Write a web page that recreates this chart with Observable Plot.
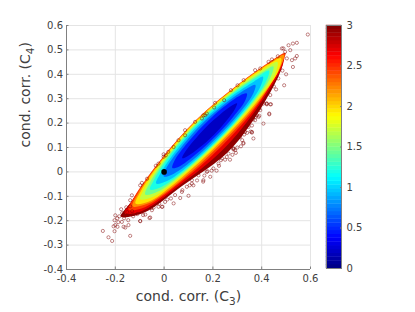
<!DOCTYPE html>
<html><head><meta charset="utf-8">
<script src="https://cdn.jsdelivr.net/npm/d3@7"></script>
<script src="https://cdn.jsdelivr.net/npm/@observablehq/plot@0.6"></script>
<style>html,body{margin:0;padding:0;background:#fff}#c{display:flex;width:415px;height:312px}svg{display:block}</style>
</head><body><div id="c"></div>
<script>
// Colour levels of the density body, outermost first
const levels = [2.95,2.7,2.45,2.2,1.95,1.7,1.45,1.2,0.95,0.7,0.45,0.2];
const levelSum = [
 [-.36,-.251,.011,.356,.701,.92,.96,.92,.701,.356,.011,-.251],
 [-.33,-.25,.002,.335,.668,.93,.97,.93,.668,.335,.002,-.25],
 [-.30,-.223,.023,.343,.663,.915,.985,.915,.663,.343,.023,-.223],
 [-.27,-.196,.039,.348,.657,.9,.97,.9,.657,.348,.039,-.196],
 [-.247,-.176,.05,.348,.646,.88,.945,.88,.646,.348,.05,-.176],
 [-.21,-.143,.07,.35,.63,.85,.915,.85,.63,.35,.07,-.143],
 [-.17,-.108,.09,.35,.61,.815,.88,.815,.61,.35,.09,-.108],
 [-.13,-.07,.105,.352,.6,.785,.845,.785,.6,.352,.105,-.07],
 [-.08,-.025,.13,.355,.58,.74,.795,.74,.58,.355,.13,-.025],
 [-.02,.02,.16,.355,.55,.69,.73,.69,.55,.355,.16,.02],
 [.05,.085,.2,.355,.51,.625,.66,.625,.51,.355,.2,.085],
 [.13,.16,.245,.355,.465,.55,.58,.55,.465,.355,.245,.16]
];
const levelDiff = [
 [.006,-.012,-.05,-.07,-.045,-.004,.012,.05,.125,.18,.13,.084],
 [.008,-.014,-.052,-.072,-.046,-.005,.012,.045,.115,.15,.118,.07],
 [.01,-.02,-.062,-.082,-.055,-.012,.01,.04,.108,.13,.11,.066],
 [.012,-.018,-.06,-.08,-.054,-.011,.012,.05,.103,.118,.105,.064],
 [.013,-.016,-.058,-.077,-.052,-.01,.013,.055,.096,.108,.096,.062],
 [.014,-.014,-.054,-.072,-.049,-.008,.014,.056,.09,.1,.09,.058],
 [.015,-.012,-.05,-.067,-.045,-.006,.015,.052,.084,.095,.084,.054],
 [.015,-.01,-.045,-.061,-.04,-.004,.015,.049,.08,.091,.08,.051],
 [.015,-.008,-.038,-.052,-.034,-.002,.015,.047,.075,.085,.075,.049],
 [.018,-.005,-.03,-.042,-.027,0,.018,.043,.068,.076,.068,.043],
 [.018,-.002,-.022,-.03,-.022,-.002,.018,.04,.058,.065,.058,.04],
 [.018,.006,-.006,-.012,-.006,.006,.018,.032,.046,.052,.046,.032]
];
// Individually visible points
const pointsC3 = [-.251,-.228,-.213,-.139,-.203,-.2,-.203,-.207,-.191,-.159,-.146,-.173,-.098,-.06,-.077,-.043,-.007,.039,.028,.066,.1,.073,.114,
 -.132,-.139,-.098,-.091,-.07,-.034,-.023,-.002,.007,-.002,.017,.039,.059,.086,.086,.127,.155,.168,.161,.175,.209,.205,.246,.274,.301,.326,.373,.394,.428,.442,.466,.489,.51,.528,.544,.589,.544,.537,.528,.5,.492,.459,.438,.431,.407,.36,.366,.325,.294,.284,.305,.339,.38,.394,.421,
 .483,.496,.517,.503,.524,
 .284,.237,.202,.291,.223,.175,.202,.161,.12,.093,.114,.141,.257,.264,.189,
 .36,.325,.387,.421,.431,.435,.407,.373,.346,.332,.312,.291,
 -.057,-.098,-.166,-.086,-.023,-.009,-.05,.004,
 -.172,-.164,-.184,-.151,-.176,-.155,-.139,-.188,-.2,-.127,-.11,-.147,-.192,-.131,
 .135,.165,.195,.225,.25,.28,.3,.32,.34,.36,.375,.39,.16,.215,.27,.315,.355,.39,.178,.233,.285,.328,.365,.105,.075,.045,.013,-.02,-.052,.42,.435,.45,.468,.485];
const pointsC4 = [-.242,-.268,-.283,-.262,-.243,-.218,-.198,-.223,-.225,-.228,-.218,-.205,-.202,-.189,-.175,-.146,-.143,-.129,-.109,-.107,-.098,-.082,-.048,
 -.096,-.116,-.055,-.045,-.028,.025,.034,.062,.068,.072,.082,.102,.13,.171,.15,.205,.219,.232,.232,.239,.283,.264,.294,.335,.355,.376,.417,.424,.451,.461,.474,.506,.519,.526,.529,.563,.475,.465,.43,.4,.355,.338,.277,.236,.28,.161,.137,.116,.078,.092,.143,.187,.232,.253,.277,
 .506,.492,.499,.465,.458,
 .097,.055,.014,.089,.034,0,.041,-.034,-.055,-.061,-.034,-.014,.061,.075,-.02,
 .164,.119,.225,.28,.239,.277,.198,.212,.184,.164,.143,.13,
 -.187,-.201,-.225,-.177,-.143,-.143,-.157,-.123,
 -.169,-.19,-.182,-.165,-.153,-.145,-.141,-.206,-.178,-.182,-.173,-.198,-.19,-.161,
 -.035,-.015,.005,.025,.05,.07,.1,.13,.16,.19,.225,.26,-.04,.005,.05,.105,.165,.23,.003,.048,.095,.153,.215,-.055,-.075,-.095,-.113,-.13,-.148,.28,.315,.35,.383,.415];
const refC3 = [0], refC4 = [0];
const xTicks = [-.4,-.2,0,.2,.4,.6];
const yTicks = [-.4,-.3,-.2,-.1,0,.1,.2,.3,.4,.5,.6];
const barTicks = [0,.5,1,1.5,2,2.5,3];
const jet = ["#000080","#0000ff","#00ffff","#ffff00","#ff0000","#800000"];
const jetStops = [0,.375,1.125,1.875,2.625,3];
const ink = "#404040", axisGray = "#808080";
const font = "'DejaVu Sans'";

const outline = levels.flatMap((level,i)=>levelSum[i].map((s,j)=>({level, c3:(s+levelDiff[i][j])/2, c4:(s-levelDiff[i][j])/2})));
const color = {type:"linear", domain:jetStops, range:jet, interpolate:"rgb"};
const pts = pointsC3.map((c3,i)=>({c3,c4:pointsC4[i]}));
const refs = refC3.map((c3,i)=>({c3,c4:refC4[i]}));
const num = d=>String(+d.toFixed(1));

const main = Plot.plot({
  width:320,height:312,marginLeft:66,marginRight:10,marginTop:25,marginBottom:43,
  style:{fontFamily:font,fontSize:"10px",color:ink},
  x:{domain:[-.4,.6]},y:{domain:[-.4,.6]},color,
  marks:[
    Plot.gridX(xTicks,{stroke:"#e4e4e4",strokeOpacity:1}),
    Plot.gridY(yTicks,{stroke:"#e4e4e4",strokeOpacity:1}),
    Plot.line(outline,{x:"c3",y:"c4",z:"level",fill:"level",stroke:null,curve:"catmull-rom-closed"}),
    Plot.dot(pts,{x:"c3",y:"c4",r:1.6,stroke:()=>3,strokeWidth:.6,strokeOpacity:.8,fill:"none"}),
    Plot.dot(refs,{x:"c3",y:"c4",r:2.8,fill:"black"}),
    Plot.ruleX([-.4],{stroke:axisGray}),
    Plot.ruleY([-.4],{stroke:axisGray}),
    Plot.axisX(xTicks,{tickSize:-2.5,tickPadding:8,stroke:axisGray,tickFormat:num,fill:ink,label:null}),
    Plot.axisY(yTicks,{tickSize:-2.5,tickPadding:6,stroke:axisGray,tickFormat:num,fill:ink,label:null}),
    Plot.text(["cond. corr. (C3)"],{frameAnchor:"bottom",dx:0,dy:22,fontSize:14,fill:ink,lineAnchor:"top",text:d=>d}),
    Plot.text(["cond. corr. (C4)"],{frameAnchor:"left",dx:-41,rotate:-90,fontSize:14,fill:ink,text:d=>d})
  ]
});
// MATLAB-style subscripts, kept as real text
d3.select(main).selectAll("text").each(function(){
  const m=/^(cond\. corr\. \(C)(\d)\)$/.exec(this.textContent);
  if(!m) return;
  const t=d3.select(this).text(m[1]);
  t.append("tspan").attr("font-size",10.5).attr("dy",4).text(m[2]);
  t.append("tspan").attr("dy",-4).text(")");
});

const ramp = d3.range(0,64).map(i=>({y1:i*3/64,y2:(i+1)*3/64,v:(i+.5)*3/64}));
const bar = Plot.plot({
  width:95,height:312,marginLeft:6,marginRight:74,marginTop:25,marginBottom:44,
  style:{fontFamily:font,fontSize:"10px",color:ink},
  x:{domain:[0,1],axis:null},y:{domain:[0,3]},color,
  marks:[
    Plot.rect(ramp,{x1:0,x2:1,y1:"y1",y2:"y2",fill:"v",inset:-.2}),
    Plot.frame({stroke:axisGray}),
    Plot.axisY(barTicks,{anchor:"right",tickSize:-2,tickPadding:7,stroke:axisGray,tickFormat:d=>String(d),fill:ink,label:null})
  ]
});
const c=document.getElementById("c");c.append(main,bar);
</script></body></html>
